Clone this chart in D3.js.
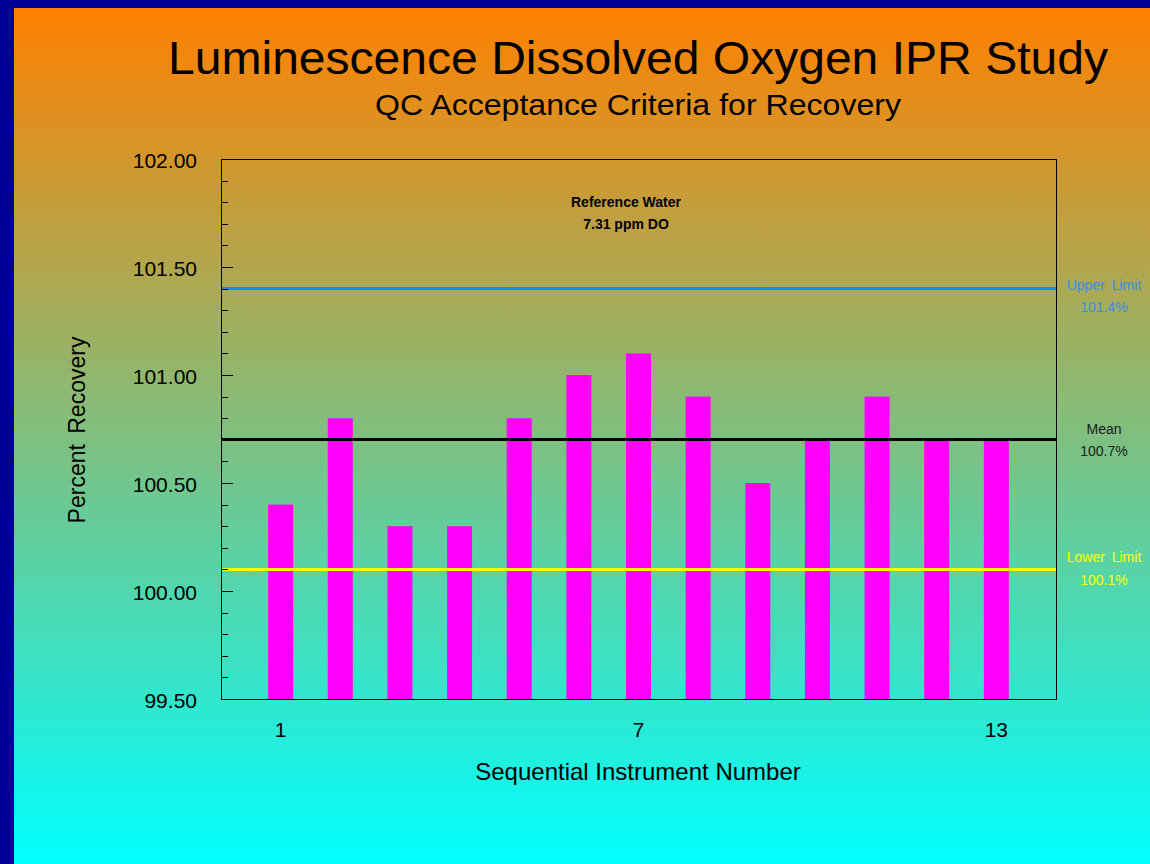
<!DOCTYPE html>
<html><head><meta charset="utf-8">
<script src="https://cdn.jsdelivr.net/npm/d3@7"></script>
<style>html,body{margin:0;padding:0;background:#000099;}svg{display:block;}text{font-family:"Liberation Sans",Arial,sans-serif;}</style>
</head><body><svg id="c" width="1150" height="864"></svg>
<script>
const instruments = [1,2,3,4,5,6,7,8,9,10,11,12,13];
const recovery = [100.4,100.8,100.3,100.3,100.8,101.0,101.1,100.9,100.5,100.7,100.9,100.7,100.7];
const xTickLabels = [1,7,13];
const yMajorTicks = [99.5,100.0,100.5,101.0,101.5,102.0];
const yMinorTicks = [99.6,99.7,99.8,99.9,100.1,100.2,100.3,100.4,100.6,100.7,100.8,100.9,101.1,101.2,101.3,101.4,101.6,101.7,101.8,101.9];
const refNames = ["Upper Limit","Mean","Lower Limit"];
const refValues = [101.4,100.7,100.1];
const refLabels = ["101.4%","100.7%","100.1%"];
const refColors = ["#1a88f0","#000000","#ffff00"];
const refTextColors = ["#3a8ee6","#1a1a1a","#ffff00"];
const annotation = ["Reference Water","7.31 ppm DO"];

const svg = d3.select("#c");
const W=1150,H=864;
const defs = svg.append("defs");
const g = defs.append("linearGradient").attr("id","bg").attr("x1",0).attr("y1",0).attr("x2",0).attr("y2",1);
g.append("stop").attr("offset","0%").attr("stop-color","#ff8000");
g.append("stop").attr("offset","100%").attr("stop-color","#00ffff");
svg.append("rect").attr("width",W).attr("height",H).attr("fill","#000099");
svg.append("rect").attr("x",14).attr("y",8).attr("width",W-14).attr("height",H-8).attr("fill","url(#bg)");

const L=221,R=1056,T=159,B=699;
const x = d3.scaleLinear().domain([0,14]).range([L,R]);
const y = d3.scaleLinear().domain([99.5,102]).range([B,T]);

// titles
svg.append("text").attr("x",638).attr("y",74).attr("text-anchor","middle").attr("font-size",46)
  .attr("textLength",940).attr("lengthAdjust","spacingAndGlyphs").attr("fill","#000").text("Luminescence Dissolved Oxygen IPR Study");
svg.append("text").attr("x",638).attr("y",115).attr("text-anchor","middle").attr("font-size",29)
  .attr("textLength",526).attr("lengthAdjust","spacingAndGlyphs").attr("fill","#000").text("QC Acceptance Criteria for Recovery");

// bars
const bw = 25;
svg.append("g").selectAll("rect").data(instruments).join("rect")
  .attr("x",(d)=>x(d)-bw/2).attr("width",bw)
  .attr("y",(d,i)=>y(recovery[i])).attr("height",(d,i)=>y(99.5)-y(recovery[i]))
  .attr("fill","#ff00ff");

// reference lines
svg.append("g").selectAll("line").data(refValues).join("line")
  .attr("x1",L).attr("x2",R+1).attr("y1",d=>Math.floor(y(d))+0.5).attr("y2",d=>Math.floor(y(d))+0.5)
  .attr("stroke",(d,i)=>refColors[i]).attr("stroke-width",3);

// frame
svg.append("rect").attr("x",L+0.5).attr("y",T+0.5).attr("width",R-L).attr("height",B-T).attr("fill","none").attr("stroke","#000").attr("stroke-width",1);

// y ticks
const yt = svg.append("g");
yt.selectAll("line.maj").data(yMajorTicks).join("line").attr("class","maj")
  .attr("x1",L).attr("x2",L+12).attr("y1",d=>Math.round(y(d))+0.5).attr("y2",d=>Math.round(y(d))+0.5).attr("stroke","#000");
yt.selectAll("line.min").data(yMinorTicks).join("line").attr("class","min")
  .attr("x1",L).attr("x2",L+7).attr("y1",d=>Math.round(y(d))+0.5).attr("y2",d=>Math.round(y(d))+0.5).attr("stroke","#000");
yt.selectAll("text").data(yMajorTicks).join("text")
  .attr("x",197).attr("y",d=>y(d)+9).attr("text-anchor","end").attr("font-size",21).attr("fill","#000")
  .text(d=>d3.format(".2f")(d));

// x tick labels
svg.append("g").selectAll("text").data(xTickLabels).join("text")
  .attr("x",d=>x(d)).attr("y",737).attr("text-anchor","middle").attr("font-size",21).attr("fill","#000").text(d=>d);

// axis titles
svg.append("text").attr("x",638).attr("y",780).attr("text-anchor","middle").attr("font-size",24).attr("fill","#000").text("Sequential Instrument Number");
svg.append("text").attr("transform","translate(85,430) rotate(-90)").attr("text-anchor","middle").attr("font-size",23).attr("fill","#000").attr("word-spacing",4).text("Percent Recovery");

// annotation
svg.append("g").selectAll("text").data(annotation).join("text")
  .attr("x",626).attr("y",(d,i)=>207+i*22).attr("text-anchor","middle").attr("font-size",14).attr("font-weight","bold").attr("fill","#000").text(d=>d);

// right labels
const nameDy = [1,-6,-7], valDy = [23,16,16];
const rl = svg.append("g");
rl.selectAll("text.n").data(refNames).join("text").attr("class","n")
  .attr("x",1104).attr("y",(d,i)=>y(refValues[i])+nameDy[i]).attr("text-anchor","middle").attr("font-size",14).attr("word-spacing",3).attr("fill",(d,i)=>refTextColors[i]).text(d=>d);
rl.selectAll("text.v").data(refLabels).join("text").attr("class","v")
  .attr("x",1104).attr("y",(d,i)=>y(refValues[i])+valDy[i]).attr("text-anchor","middle").attr("font-size",14).attr("fill",(d,i)=>refTextColors[i]).text(d=>d);
</script></body></html>
